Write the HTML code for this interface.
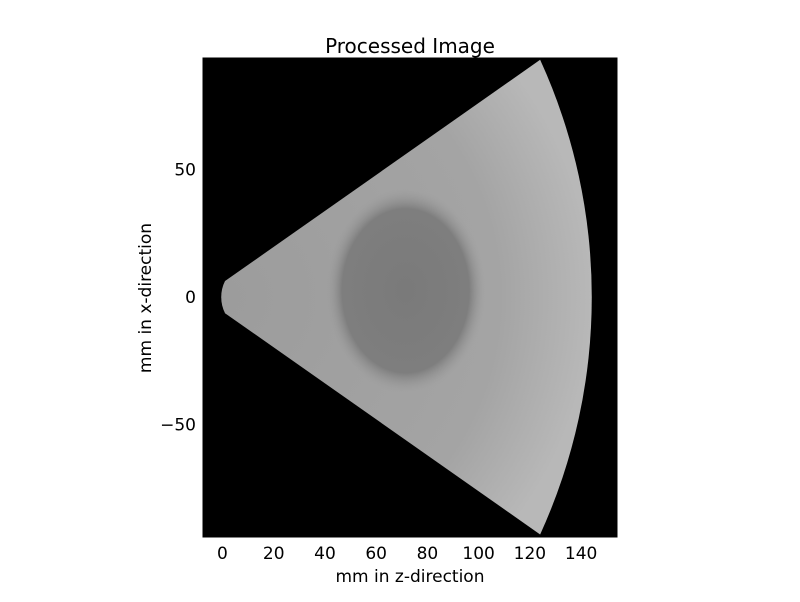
<!DOCTYPE html>
<html><head><meta charset="utf-8"><style>
body{margin:0;background:#fff;width:800px;height:597px;overflow:hidden}
svg text{font-family:"DejaVu Sans","Liberation Sans",sans-serif;fill:#000}
</style></head><body>
<svg id="c" width="800" height="597">
<defs>
<radialGradient id="fanG" gradientUnits="userSpaceOnUse" cx="222" cy="297" r="370">
<stop offset="0" stop-color="#9c9c9c"/><stop offset="0.75" stop-color="#a4a4a4"/><stop offset="1" stop-color="#b8b8b8"/>
</radialGradient>
<radialGradient id="lesG">
<stop offset="0" stop-color="#7a7a7a"/><stop offset="0.8" stop-color="#7e7e7e"/><stop offset="1" stop-color="#9c9c9c" stop-opacity="0"/>
</radialGradient>
<clipPath id="pc"><rect x="203" y="58" width="414" height="479"/></clipPath>
</defs>
</svg>
<script>
const xTicks=[0,20,40,60,80,100,120,140];
const yTicks=[50,0,-50];
const xDomain=[-7.6,154];
const yDomain=[-94,93.7];
const fanCornerX=124, fanCornerY=93, startHalfWidth=6.3, outerArcRadius=223;
const lesion={cx:71.5,cy:2.5,rx:31,ry:40};
const L=203,R=617,T=58,B=537;
const sx=v=>L+(v-xDomain[0])/(xDomain[1]-xDomain[0])*(R-L);
const sy=v=>B-(v-yDomain[0])/(yDomain[1]-yDomain[0])*(B-T);
const svg=document.getElementById('c');const NS='http://www.w3.org/2000/svg';
function mk(t,a,p){const e=document.createElementNS(NS,t);for(const k in a)e.setAttribute(k,a[k]);(p||svg).appendChild(e);return e;}
const bg=mk('rect',{x:L,y:T,width:R-L,height:B-T,fill:'#000'});


const g=mk('g',{'clip-path':'url(#pc)'});
const px=r=>sx(r)-sx(0);
const p1=[sx(1),sy(startHalfWidth)];
const p2=[sx(fanCornerX),sy(fanCornerY)];
const p3=[sx(fanCornerX),sy(-fanCornerY)];
const p4=[sx(1),sy(-startHalfWidth)];
const fan=mk('path',{d:`M${p1} L${p2} A${px(outerArcRadius)} ${px(outerArcRadius)} 0 0 1 ${p3} L${p4} A${px(14)} ${px(14)} 0 0 1 ${p1}Z`,fill:'url(#fanG)'},g);


const les=mk('ellipse',{cx:sx(lesion.cx),cy:sy(lesion.cy),rx:px(lesion.rx),ry:px(lesion.ry),fill:'url(#lesG)'},g);


const fr=mk('rect',{x:L,y:T,width:R-L,height:B-T,fill:'none',stroke:'#000','stroke-width':1});


xTicks.forEach(v=>{const x=sx(v);
mk('line',{x1:x,x2:x,y1:B,y2:B-5,stroke:'#000'});
const t=mk('text',{x:x,y:B+22,'text-anchor':'middle','font-size':17});t.textContent=v;

});
yTicks.forEach(v=>{const y=sy(v);
mk('line',{x1:L,x2:L+5,y1:y,y2:y,stroke:'#000'});
const t=mk('text',{x:L-7,y:y+6,'text-anchor':'end','font-size':17});t.textContent=v<0?'\u2212'+(-v):v;

});
const ti=mk('text',{x:410,y:53,'text-anchor':'middle','font-size':20});ti.textContent='Processed Image';


const xl=mk('text',{x:410,y:582,'text-anchor':'middle','font-size':17});xl.textContent='mm in z-direction';


const yl=mk('text',{x:151,y:298,'text-anchor':'middle','font-size':17,transform:'rotate(-90 151 298)'});yl.textContent='mm in x-direction';


</script>
</body></html>
